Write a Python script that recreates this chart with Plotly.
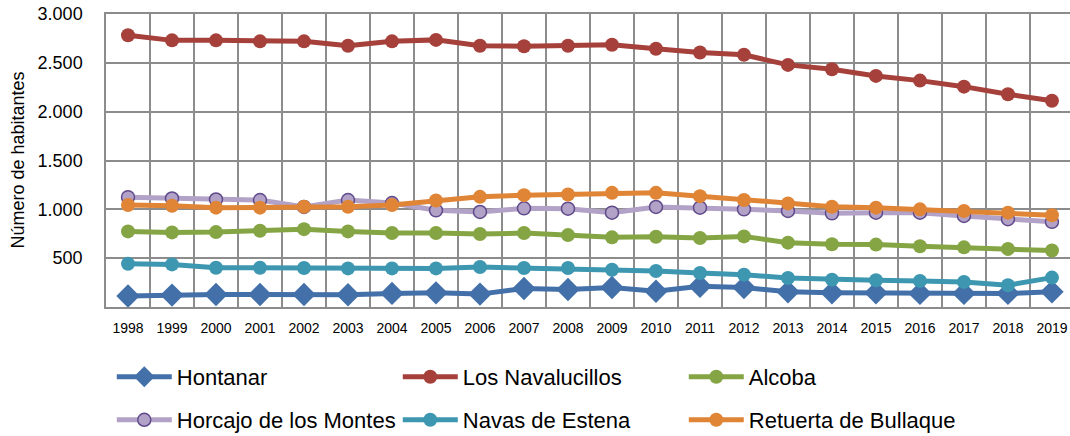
import plotly.graph_objects as go

years = [str(y) for y in range(1998, 2020)]

hontanar = [112, 122, 128, 128, 128, 125, 139, 145, 132, 189, 179, 199, 162, 213, 199, 155, 145, 145, 139, 139, 139, 155]
navalucillos = [2782, 2730, 2730, 2720, 2720, 2675, 2720, 2735, 2675, 2670, 2675, 2685, 2644, 2606, 2582, 2479, 2435, 2366, 2318, 2256, 2178, 2112]
alcoba = [774, 764, 767, 780, 797, 774, 757, 757, 747, 757, 736, 713, 720, 706, 723, 659, 642, 639, 622, 611, 595, 578]
horcajo = [1125, 1111, 1101, 1095, 1024, 1095, 1064, 990, 973, 1010, 1007, 966, 1024, 1017, 1000, 983, 959, 966, 966, 932, 899, 872]
navas = [443, 436, 402, 402, 399, 395, 395, 395, 409, 399, 399, 382, 368, 348, 331, 297, 280, 274, 267, 257, 223, 301]
retuerta = [1044, 1037, 1017, 1017, 1027, 1027, 1044, 1091, 1128, 1145, 1152, 1169, 1169, 1135, 1095, 1061, 1027, 1017, 1000, 983, 966, 939]

ytick_vals = [500, 1000, 1500, 2000, 2500, 3000]
ytick_text = ["500", "1.000", "1.500", "2.000", "2.500", "3.000"]
y_title = "Número de habitantes"

FONT = "Liberation Sans"

fig = go.Figure()

def add(name, vals, color, symbol, size, legend, mfill=None, mline=None, lw=5):
    fig.add_trace(go.Scatter(
        x=years, y=vals, name=name, mode="lines+markers",
        line=dict(color=color, width=lw),
        marker=dict(symbol=symbol, size=size, color=mfill or color,
                    line=dict(color=mline or color, width=1.5 if mline else 0)),
        legend=legend,
    ))

add("Hontanar", hontanar, "#4370A9", "diamond", 18, "legend")
add("Los Navalucillos", navalucillos, "#A6403B", "circle", 14, "legend")
add("Alcoba", alcoba, "#85A545", "circle", 14, "legend")
add("Horcajo de los Montes", horcajo, "#B3A2C7", "circle", 13, "legend2",
    mfill="#B3A2C7", mline="#5F4A8B")
add("Navas de Estena", navas, "#3D97B0", "circle", 14, "legend2")
add("Retuerta de Bullaque", retuerta, "#E08536", "circle", 14, "legend2")

legend_common = dict(
    orientation="h", xanchor="left", yanchor="top",
    font=dict(family=FONT, size=22, color="#000000"),
    entrywidth=216, entrywidthmode="pixels", bgcolor="rgba(0,0,0,0)",
    itemwidth=55,
)

fig.update_layout(
    width=1070, height=436,
    margin=dict(l=106, r=0, t=14, b=129, pad=0, autoexpand=False),
    paper_bgcolor="white", plot_bgcolor="white",
    showlegend=True,
    legend=dict(x=0.006, y=-0.167, **legend_common),
    legend2=dict(x=0.006, y=-0.314, **legend_common),
    xaxis=dict(
        type="category", tickson="boundaries", showgrid=True,
        range=[-0.5, 21.41],
        gridcolor="#8C8C8C", gridwidth=1.5, automargin=False,
        showline=True, linecolor="#8C8C8C", linewidth=1.5, mirror=True,
        ticks="", tickfont=dict(family=FONT, size=14, color="#000000"),
        ticklabelstandoff=7, ticklabeloverflow="allow",
    ),
    yaxis=dict(
        range=[0, 3000], tickvals=ytick_vals, ticktext=ytick_text,
        showgrid=True, gridcolor="#8C8C8C", gridwidth=1.5, automargin=False,
        showline=True, linecolor="#8C8C8C", linewidth=1.5, mirror=False,
        zeroline=False, ticks="outside", ticklen=18, tickcolor="rgba(0,0,0,0)",
        tickfont=dict(family=FONT, size=18, color="#000000"),
        ticklabeloverflow="allow",
    ),
    annotations=[dict(
        text=y_title, textangle=-90, showarrow=False,
        xref="paper", yref="paper", x=-0.0923, y=0.5,
        xanchor="center", yanchor="middle",
        font=dict(family=FONT, size=18, color="#000000"),
    )],
)

# remove the default 8px page margin so the figure fills the window exactly
fig.write_html("out.html", config={"displayModeBar": False},
               post_script="document.body.style.margin='0';")
